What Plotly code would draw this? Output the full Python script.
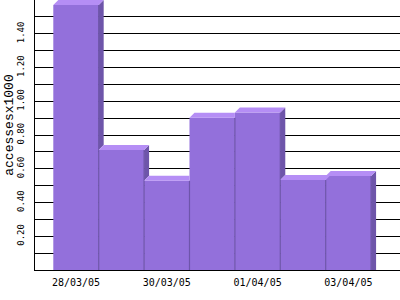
import plotly.graph_objects as go

dates = ["28/03/05", "29/03/05", "30/03/05", "31/03/05", "01/04/05", "02/04/05", "03/04/05"]
values = [1.57, 0.711, 0.529, 0.902, 0.934, 0.533, 0.557]
tick_dates = ["28/03/05", "30/03/05", "01/04/05", "03/04/05"]
y_ticks = [0.2, 0.4, 0.6, 0.8, 1.0, 1.2, 1.4]
y_title = "accessesx1000"

FRONT = "#9370DB"
TOP = "#B58EF5"
SIDE = "#6E55AA"
DX = 0.11   # depth offset (category units)
DY = 0.0296  # depth offset (value units)

fig = go.Figure()
n = len(values)
xs = list(range(n))
fig.add_trace(go.Bar(x=xs, y=values, width=1.0, marker=dict(color=FRONT, line=dict(width=0)),
                     hoverinfo="skip", showlegend=False))

for i, v in enumerate(values):
    x0 = i + 0.5
    vn = values[i + 1] if i + 1 < n else None
    # right edge line
    fig.add_trace(go.Scatter(x=[x0, x0], y=[0, v], mode="lines", line=dict(color=SIDE, width=1.2),
                             hoverinfo="skip", showlegend=False))
    # side face
    if vn is None:
        sx = [x0, x0 + DX, x0 + DX, x0, x0]
        sy = [0, 0, v + DY, v, 0]
        fig.add_trace(go.Scatter(x=sx, y=sy, mode="lines", fill="toself", fillcolor=SIDE,
                                 line=dict(width=0, color=SIDE), hoverinfo="skip", showlegend=False))
    elif vn < v:
        sx = [x0, x0 + DX, x0 + DX, x0, x0]
        sy = [vn, vn + DY, v + DY, v, vn]
        fig.add_trace(go.Scatter(x=sx, y=sy, mode="lines", fill="toself", fillcolor=SIDE,
                                 line=dict(width=0, color=SIDE), hoverinfo="skip", showlegend=False))
    # top face
    right = x0 + DX if (vn is None or vn < v + DY) else x0
    tx = [i - 0.5, i - 0.5 + DX, right, x0, i - 0.5]
    ty = [v, v + DY, v + DY, v, v]
    fig.add_trace(go.Scatter(x=tx, y=ty, mode="lines", fill="toself", fillcolor=TOP,
                             line=dict(width=0, color=TOP), hoverinfo="skip", showlegend=False))

fig.update_layout(
    width=400, height=300,
    margin=dict(l=35, r=0, t=0, b=30),
    paper_bgcolor="white", plot_bgcolor="white",
    showlegend=False,
    annotations=[dict(text=y_title, xref="paper", yref="paper", x=-0.07, y=0.536,
                      xanchor="center", yanchor="middle", textangle=-90, showarrow=False,
                      font=dict(family="Liberation Mono", size=13, color="black"))],
)
fig.update_xaxes(
    range=[-0.903, 7.137], tickmode="array",
    tickvals=[dates.index(d) for d in tick_dates], ticktext=tick_dates,
    showgrid=False, zeroline=False, showline=True, linecolor="black", linewidth=1,
    ticks="", ticklabelstandoff=3,
    tickfont=dict(family="DejaVu Sans Mono", size=10, color="black"),
)
fig.update_yaxes(
    range=[0, 1.6], tickmode="array", tickvals=y_ticks,
    ticktext=["%.2f" % t for t in y_ticks], tickangle=-90,
    showgrid=True, gridcolor="black", gridwidth=1,
    minor=dict(dtick=0.1, tick0=0, showgrid=True, gridcolor="black", gridwidth=1),
    zeroline=False, showline=True, linecolor="black", linewidth=1,
    ticks="", ticklabelstandoff=6,
    tickfont=dict(family="DejaVu Sans Mono", size=9, color="black"),
)
fig.write_html("out.html")
